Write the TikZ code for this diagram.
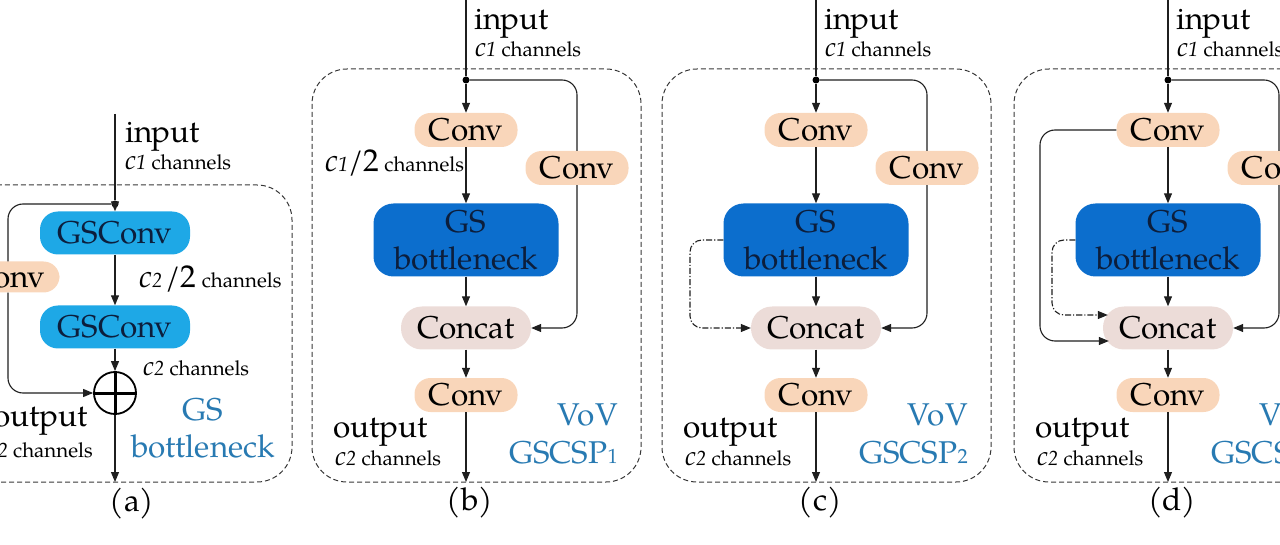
\documentclass[tikz,border=0pt]{standalone}
\usepackage{fontspec}
\setmainfont{TeX Gyre Pagella}
\usetikzlibrary{arrows.meta,calc}
\definecolor{peach}{RGB}{249,214,186}
\definecolor{gsblue}{RGB}{12,110,205}
\definecolor{gscblue}{RGB}{30,168,230}
\definecolor{catpink}{RGB}{236,220,216}
\definecolor{tealtxt}{RGB}{40,122,178}
\definecolor{navytxt}{RGB}{12,30,60}
\newcommand{\fBig}{\fontsize{31.5}{37}\selectfont}
\newcommand{\fSm}{\fontsize{20.5}{23}\selectfont}
\newcommand{\fC}{\fontsize{27}{30}\selectfont}
\newcommand{\chan}[1]{{\fC\itshape c}{\fSm\itshape #1} {\fSm channels}}
\tikzset{
  conv/.style={fill=peach, rounded corners=16pt, minimum width=103pt, minimum height=34pt, inner sep=0pt, font=\fBig},
  gsb/.style={fill=gsblue, rounded corners=20pt, minimum width=185pt, minimum height=73pt, inner sep=0pt, font=\fBig, text=navytxt, align=center},
  gsc/.style={fill=gscblue, rounded corners=18pt, minimum width=150pt, minimum height=43pt, inner sep=0pt, font=\fBig, text=navytxt},
  cat/.style={fill=catpink, rounded corners=21pt, minimum width=130pt, minimum height=43pt, inner sep=0pt, font=\fBig},
  frame/.style={draw=black!78, dash pattern=on 5pt off 3pt, line width=1pt, rounded corners=35pt},
  ln/.style={line width=1.1pt, draw=black!88},
  arr/.style={ln, -{Triangle[length=10pt,width=8pt]}},
  dd/.style={arr, dash pattern=on 6pt off 2pt on 1.2pt off 2pt},
  lbl/.style={font=\fBig, inner sep=0pt},
  sml/.style={font=\fSm, inner sep=0pt},
  tl/.style={font=\fBig, text=tealtxt, inner sep=0pt},
  jdot/.style={circle, fill=black, inner sep=0pt, minimum size=7pt}
}
\begin{document}
\begin{tikzpicture}[x=1pt,y=-1pt]
\useasboundingbox (0,0) rectangle (1280,545);
\clip (0,0) rectangle (1280,545);

% ---------------- panel (a)
\draw[frame] (-200,185) rectangle (292,482);
\coordinate (ina) at (115,114);
\node[jdot] (dota) at (115,204) {};
\node[gsc] (gsc1a) at (115,233) {GSConv};
\node[gsc] (gsc2a) at (115,327) {GSConv};
\node[conv, minimum height=31pt] (convLa) at (8,277) {Conv};
\node[circle, draw, line width=1.8pt, minimum size=42pt, inner sep=0pt] (adda) at (115,393) {};
\draw[line width=3pt] (adda.north) -- (adda.south) (adda.west) -- (adda.east);
\coordinate (outa) at (115,482);
\draw[ln] (ina) -- (dota);
\draw[arr] (dota) -- (gsc1a.north);
\draw[arr] (gsc1a.south) -- (gsc2a.north);
\draw[arr] (gsc2a.south) -- (adda.north);
\draw[arr] (adda.south) -- (outa);
\draw[ln, rounded corners=15pt] (dota) -| (convLa.north);
\draw[arr, rounded corners=15pt] (convLa.south) |- (adda.west);
\node[lbl, anchor=base west] (inputa) at (125,143) {input};
\node[sml, anchor=base west] (c1a) at (125,170) {\chan{1}};
\node[sml, anchor=base west] (c22a) at (139,288) {{\fBig\itshape c}{\fSm\itshape 2}\,{\fBig /2} channels};
\node[sml, anchor=base west] (c2a) at (143,375) {\chan{2}};
\node[lbl, anchor=base east] (outputa) at (88,426) {output};
\node[sml, anchor=base east] (c2oa) at (93,457) {\chan{2}};
\node[tl, align=center, font=\fontsize{31.5}{37}\selectfont] (tla) at (203,428) {GS\\bottleneck};
\node[lbl] (laba) at (132,504) {(a)};

% ---------------- panels (b), (c), (d)
\foreach \p/\dx/\sub in {b/0/1,c/350/2,d/702/3}{
\begin{scope}[xshift=\dx pt]
  \draw[frame] (312,69) rectangle (641,482);
  \coordinate (in\p) at (466,0);
  \node[jdot] (dot\p) at (466,80) {};
  \node[conv] (conv1\p) at (466,130) {Conv};
  \node[conv] (convR\p) at (577,168) {Conv};
  \node[gsb] (gs\p) at (466,240) {GS\\bottleneck};
  \node[cat] (cat\p) at (466,328) {Concat};
  \node[conv] (conv2\p) at (466,395) {Conv};
  \coordinate (out\p) at (466,482);
  \draw[ln] (in\p) -- (dot\p);
  \draw[arr] (dot\p) -- (conv1\p.north);
  \draw[arr] (conv1\p.south) -- (gs\p.north);
  \draw[arr] (gs\p.south) -- (cat\p.north);
  \draw[arr] (cat\p.south) -- (conv2\p.north);
  \draw[arr] (conv2\p.south) -- (out\p);
  \draw[ln, rounded corners=15pt] (dot\p) -| (convR\p.north);
  \draw[arr, rounded corners=15pt] (convR\p.south) |- (cat\p.east);
  \node[lbl, anchor=base west] (input\p) at (474,30) {input};
  \node[sml, anchor=base west] (c1\p) at (475,57) {\chan{1}};
  \node[lbl, anchor=base west] (output\p) at (333,437) {output};
  \node[sml, anchor=base west] (c2\p) at (335,465) {\chan{2}};
  \node[tl, anchor=base east] (vov\p) at (618,425) {VoV};
  \node[tl, anchor=base east] (csp\p) at (618,463) {GSCSP{\fSm\sub}};
  \node[lbl] (lab\p) at (470,503) {(\p)};
\end{scope}
}
\node[sml, anchor=base west] (c12b) at (325,172) {{\fBig\itshape c}{\fSm\itshape 1}{\fBig /2} channels};

% extra links (c)
\draw[dd, rounded corners=12pt] (gsc.west) -| (690,290) |- (catc.west);
% extra links (d)
\draw[dd, rounded corners=12pt] (gsd.west) -| (1052,290) |- ($(catd.west)+(5,-13)$);
\draw[arr, rounded corners=15pt] (conv1d.west) -| (1040,240) |- ($(catd.west)+(6,13)$);
\end{tikzpicture}
\end{document}
